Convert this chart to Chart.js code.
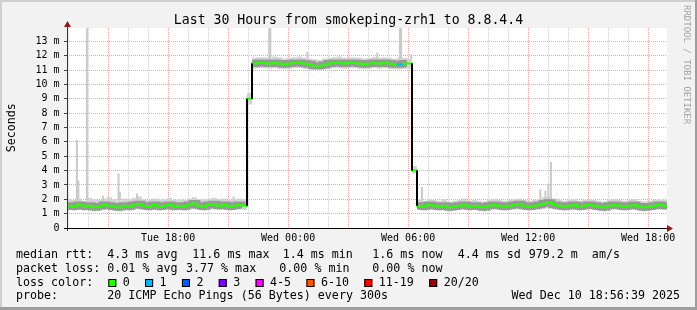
<!DOCTYPE html>
<html>
<head>
<meta charset="utf-8">
<script src="https://cdn.jsdelivr.net/npm/chart.js@4.4.1/dist/chart.umd.min.js"></script>
<style>
  html, body { margin: 0; padding: 0; background: #f2f2f2; }
  #wrap { width: 697px; height: 310px; }
</style>
</head>
<body>
<div id="wrap"><canvas id="smokeChart" width="697" height="310"></canvas></div>
<script>
// hours counted from Tue 00:00, one bucket every 15 minutes
const startHour = 12.944;
const stepHours = 0.25;

const medianRtt = [
    1.55, 1.5, 1.6, 1.5, 1.55, 1.45, 1.5, 1.6, 1.55, 1.5, 1.45, 1.55,
    1.5, 1.6, 1.65, 1.55, 1.5, 1.6, 1.5, 1.55, 1.6, 1.5, 1.55, 1.5,
    1.6, 1.7, 1.55, 1.5, 1.6, 1.65, 1.55, 1.6, 1.5, 1.55, 1.6, 1.55,
    9.0, 11.45, 11.5, 11.5, 11.45, 11.5, 11.45, 11.4, 11.45, 11.5, 11.5, 11.45,
    11.4, 11.3, 11.3, 11.35, 11.45, 11.5, 11.5, 11.45, 11.5, 11.5, 11.45, 11.4,
    11.45, 11.5, 11.45, 11.5, 11.45, 11.4, 11.4, 11.45, 11.45, 4.0, 1.55, 1.5,
    1.6, 1.55, 1.5, 1.55, 1.45, 1.5, 1.55, 1.6, 1.5, 1.55, 1.5, 1.45,
    1.55, 1.6, 1.55, 1.5, 1.55, 1.6, 1.65, 1.55, 1.5, 1.55, 1.6, 1.7,
    1.75, 1.6, 1.55, 1.5, 1.55, 1.6, 1.5, 1.55, 1.6, 1.55, 1.5, 1.45,
    1.55, 1.6, 1.55, 1.5, 1.55, 1.6, 1.5, 1.45, 1.5, 1.55, 1.6, 1.55,
    1.55
];

const smokeHigh = [
    2.0, 1.95, 2.05, 1.9, 2.1, 2.0, 1.95, 2.05, 2.15, 2.0, 1.9, 2.05,
    2.0, 2.1, 2.2, 2.0, 1.95, 2.05, 1.95, 2.0, 2.1, 1.95, 2.0, 1.95,
    2.05, 2.15, 2.0, 2.0, 2.05, 2.1, 2.0, 2.05, 1.95, 2.0, 2.05, 2.0,
    9.4, 11.85, 11.9, 11.9, 11.85, 11.95, 11.9, 11.8, 11.85, 11.9, 11.95, 11.85,
    11.8, 11.75, 11.7, 11.8, 11.85, 11.9, 11.95, 11.85, 11.9, 11.9, 11.85, 11.8,
    11.85, 11.9, 11.85, 11.9, 11.85, 11.8, 11.85, 11.85, 11.8, 4.3, 1.95, 1.9,
    2.0, 1.95, 1.9, 2.0, 1.85, 1.9, 1.95, 2.05, 1.9, 1.95, 1.9, 1.85,
    1.95, 2.0, 1.95, 1.9, 1.95, 2.0, 2.05, 1.95, 1.9, 1.95, 2.0, 2.15,
    2.2, 2.05, 1.95, 1.9, 1.95, 2.0, 1.9, 1.95, 2.0, 1.95, 1.9, 1.85,
    1.95, 2.0, 1.95, 1.9, 1.95, 2.0, 1.9, 1.85, 1.9, 1.95, 2.0, 1.95,
    1.95
];

const smokeLow = [
    1.25, 1.2, 1.3, 1.2, 1.25, 1.15, 1.2, 1.3, 1.25, 1.2, 1.15, 1.25,
    1.2, 1.3, 1.3, 1.25, 1.2, 1.3, 1.2, 1.25, 1.3, 1.2, 1.25, 1.2,
    1.3, 1.35, 1.25, 1.2, 1.3, 1.3, 1.25, 1.3, 1.2, 1.25, 1.3, 1.25,
    8.6, 11.1, 11.15, 11.15, 11.1, 11.15, 11.1, 11.05, 11.1, 11.15, 11.15, 11.1,
    11.05, 11.0, 11.0, 11.05, 11.1, 11.15, 11.15, 11.1, 11.15, 11.15, 11.1, 11.05,
    11.1, 11.15, 11.1, 11.15, 11.1, 11.05, 11.05, 11.1, 11.1, 3.8, 1.25, 1.2,
    1.3, 1.25, 1.2, 1.25, 1.15, 1.2, 1.25, 1.3, 1.2, 1.25, 1.2, 1.15,
    1.25, 1.3, 1.25, 1.2, 1.25, 1.3, 1.3, 1.25, 1.2, 1.25, 1.3, 1.35,
    1.4, 1.3, 1.25, 1.2, 1.25, 1.3, 1.2, 1.25, 1.3, 1.25, 1.2, 1.15,
    1.25, 1.3, 1.25, 1.2, 1.25, 1.3, 1.2, 1.15, 1.2, 1.25, 1.3, 1.25,
    1.25
];

// single slow pings sticking out of the smoke
const spikeHours = [13.44, 13.51, 13.94, 14.74, 15.52, 15.59, 16.44, 21.27,
                    23.06, 23.11, 24.96, 28.46, 29.59, 29.65, 30.16,
                    30.69, 36.61, 36.86, 37.01, 37.14];
const spikeBase = [1.9, 1.9, 1.9, 1.9, 1.9, 1.9, 1.9, 1.9,
                   11.8, 11.8, 11.8, 11.8, 11.8, 11.8, 11.8,
                   1.9, 1.9, 1.9, 1.9, 1.9];
const spikeTop = [6.15, 3.3, 14, 2.25, 3.8, 2.5, 2.4, 2.2,
                  14, 14, 12.25, 12.2, 14, 14, 12.1,
                  2.85, 2.7, 2.6, 3.1, 4.6];

// buckets where pings were lost
const lossSteps = [66];
const lossPings = [1];

const lossBins = ["0", "1", "2", "3", "4-5", "6-10", "11-19", "20/20"];
const lossColors = ["#26ff00", "#00b8ff", "#0059ff", "#7e00ff", "#ff00ff", "#ff5500", "#ff0000", "#a10000"];

const xTickHours = [13, 14, 15, 16, 17, 18, 19, 20, 21, 22, 23, 24, 25, 26, 27,
                    28, 29, 30, 31, 32, 33, 34, 35, 36, 37, 38, 39, 40, 41, 42];
const xLabelHours = [18, 24, 30, 36, 42];
const xLabelTexts = ["Tue 18:00", "Wed 00:00", "Wed 06:00", "Wed 12:00", "Wed 18:00"];
const yTickValues = [0, 0.5, 1, 1.5, 2, 2.5, 3, 3.5, 4, 4.5, 5, 5.5, 6, 6.5,
                     7, 7.5, 8, 8.5, 9, 9.5, 10, 10.5, 11, 11.5, 12, 12.5, 13, 13.5];

const titleText = "Last 30 Hours from smokeping-zrh1 to 8.8.4.4";
const rttItems = ["median rtt:", "4.3 ms avg", "11.6 ms max", "1.4 ms min", "1.6 ms now", "4.4 ms sd", "979.2 m  am/s"];
const lossItems = ["packet loss:", "0.01 % avg", "3.77 % max", "0.00 % min", "0.00 % now"];
const probeItems = ["probe:", "20 ICMP Echo Pings (56 Bytes) every 300s"];
const stampText = "Wed Dec 10 18:56:39 2025";

const MONO = '"DejaVu Sans Mono", monospace';
const MAJOR_GRID = "#e6a4a4";
const MINOR_GRID = "#cfcfcf";

const times = medianRtt.map((_, i) => startHour + i * stepHours);
const toPoints = arr => arr.map((v, i) => ({ x: times[i], y: v }));

function lossColorAt(i) {
    const j = lossSteps.indexOf(i);
    if (j < 0) return lossColors[0];
    const p = lossPings[j];
    if (p <= 3) return lossColors[p];
    if (p <= 5) return lossColors[4];
    if (p <= 10) return lossColors[5];
    if (p <= 19) return lossColors[6];
    return lossColors[7];
}

function isJump(i) {
    return i > 0 && Math.abs(medianRtt[i] - medianRtt[i - 1]) > 1;
}

const jumpPoints = [];
medianRtt.forEach((v, i) => {
    if (isJump(i)) {
        jumpPoints.push({ x: times[i], y: medianRtt[i - 1] }, { x: times[i], y: v }, { x: times[i], y: null });
    }
});

const spikePoints = [];
spikeHours.forEach((h, i) => {
    spikePoints.push({ x: h, y: spikeBase[i] }, { x: h, y: spikeTop[i] }, { x: h, y: null });
});

const decor = {
    id: "decor",
    beforeDraw(chart) {
        const { ctx, chartArea: a } = chart;
        ctx.save();
        ctx.fillStyle = "#f2f2f2";
        ctx.fillRect(0, 0, 697, 310);
        ctx.fillStyle = "#cfcfcf";
        ctx.fillRect(0, 0, 697, 2);
        ctx.fillRect(0, 0, 2, 310);
        ctx.fillStyle = "#9e9e9e";
        ctx.fillRect(0, 307, 697, 3);
        ctx.fillRect(695, 0, 2, 310);
        ctx.fillStyle = "#ffffff";
        ctx.fillRect(a.left, a.top, a.right - a.left, a.bottom - a.top);
        ctx.restore();
    },
    afterDraw(chart) {
        const { ctx, chartArea: a } = chart;
        const x0 = Math.round(a.left) + 0.5;
        const y0 = Math.round(a.bottom) + 0.5;
        ctx.save();

        // axes
        ctx.lineWidth = 1;
        ctx.strokeStyle = "#2f3a38";
        ctx.beginPath();
        ctx.moveTo(x0, a.bottom + 3);
        ctx.lineTo(x0, a.top - 2);
        ctx.stroke();
        ctx.strokeStyle = "#000";
        ctx.beginPath();
        ctx.moveTo(a.left - 3, y0);
        ctx.lineTo(a.right + 1, y0);
        ctx.stroke();

        ctx.fillStyle = "#901818";
        ctx.beginPath();
        ctx.moveTo(x0, a.top - 7);
        ctx.lineTo(x0 - 3.5, a.top - 1);
        ctx.lineTo(x0 + 3.5, a.top - 1);
        ctx.closePath();
        ctx.fill();
        ctx.beginPath();
        ctx.moveTo(a.right + 6, y0);
        ctx.lineTo(a.right, y0 - 3.5);
        ctx.lineTo(a.right, y0 + 3.5);
        ctx.closePath();
        ctx.fill();

        // title and axis caption
        ctx.fillStyle = "#000";
        ctx.textBaseline = "alphabetic";
        ctx.font = "13.2px " + MONO;
        ctx.textAlign = "center";
        ctx.fillText(titleText, 348.5, 24);

        ctx.font = "11.66px " + MONO;
        ctx.save();
        ctx.translate(14.7, 127.7);
        ctx.rotate(-Math.PI / 2);
        ctx.fillText("Seconds", 0, 0);
        ctx.restore();

        ctx.save();
        ctx.fillStyle = "#a3a3a3";
        ctx.font = "9px " + MONO;
        ctx.textAlign = "left";
        ctx.translate(684, 5);
        ctx.rotate(Math.PI / 2);
        ctx.fillText("RRDTOOL / TOBI OETIKER", 0, 0);
        ctx.restore();

        // legend block
        ctx.font = "11.66px " + MONO;
        ctx.textAlign = "left";
        const rttX = [16, 107.3, 192.3, 282.7, 372.3, 457.7, 528.7];
        rttItems.forEach((t, i) => ctx.fillText(t, rttX[i], 258.3));
        const lossX = [16, 107.3, 186, 279.3, 372.3];
        lossItems.forEach((t, i) => ctx.fillText(t, lossX[i], 271.7));
        ctx.fillText("loss color:", 16, 285.5);
        let bx = 108.3;
        lossBins.forEach((label, i) => {
            ctx.fillStyle = lossColors[i];
            ctx.fillRect(bx, 279, 8, 8);
            ctx.strokeStyle = "#000";
            ctx.strokeRect(bx + 0.5, 279.5, 7, 7);
            ctx.fillStyle = "#000";
            ctx.fillText(label, bx + 14.5, 285.5);
            bx += 14.5 + ctx.measureText(label).width + 15.3;
        });
        ctx.fillText(probeItems[0], 16, 299);
        ctx.fillText(probeItems[1], 107.3, 299);
        ctx.textAlign = "right";
        ctx.fillText(stampText, 680, 299);
        ctx.restore();
    }
};

new Chart(document.getElementById("smokeChart"), {
    type: "line",
    data: {
        datasets: [
            {
                label: "jumps",
                data: jumpPoints,
                borderColor: "#000",
                borderWidth: 2,
                spanGaps: false,
                order: 0
            },
            {
                label: "median rtt",
                data: toPoints(medianRtt),
                stepped: true,
                borderColor: lossColors[0],
                borderWidth: 2,
                segment: { borderColor: c => lossColorAt(c.p0DataIndex) },
                order: 1
            },
            {
                label: "median smoke",
                data: toPoints(medianRtt),
                stepped: true,
                borderColor: "rgba(80,80,80,0.45)",
                borderWidth: 7,
                segment: { borderColor: c => (isJump(c.p1DataIndex) ? "rgba(0,0,0,0)" : undefined) },
                order: 2
            },
            {
                label: "spikes",
                data: spikePoints,
                borderColor: "#cacaca",
                borderWidth: 2,
                spanGaps: false,
                order: 3
            },
            {
                label: "smoke high",
                data: toPoints(smokeHigh),
                stepped: true,
                borderColor: "rgba(0,0,0,0)",
                borderWidth: 0,
                backgroundColor: "#d3d3d3",
                fill: "+1",
                order: 4
            },
            {
                label: "smoke low",
                data: toPoints(smokeLow),
                stepped: true,
                borderColor: "rgba(0,0,0,0)",
                borderWidth: 0,
                fill: false,
                order: 5
            }
        ]
    },
    options: {
        responsive: false,
        animation: false,
        devicePixelRatio: 1,
        events: [],
        elements: { point: { radius: 0 }, line: { tension: 0 } },
        layout: { padding: { left: 0, top: 28, right: 30, bottom: 62 } },
        plugins: { legend: { display: false }, tooltip: { enabled: false } },
        scales: {
            x: {
                type: "linear",
                min: startHour,
                max: startHour + 30,
                afterBuildTicks: s => { s.ticks = xTickHours.map(v => ({ value: v })); },
                afterFit: s => { s.height = 20; },
                ticks: {
                    autoSkip: false,
                    maxRotation: 0,
                    padding: 1,
                    color: "#000",
                    font: { family: MONO, size: 10 },
                    callback: v => {
                        const j = xLabelHours.indexOf(v);
                        return j < 0 ? "" : xLabelTexts[j];
                    }
                },
                grid: {
                    color: c => (c.tick && c.tick.value % 3 === 0 ? MAJOR_GRID : MINOR_GRID),
                    tickLength: 3,
                    tickColor: "rgba(0,0,0,0)"
                },
                border: { display: false, dash: [1, 1] }
            },
            y: {
                min: 0,
                max: 13.93,
                afterBuildTicks: s => { s.ticks = yTickValues.map(v => ({ value: v })); },
                afterFit: s => { s.width = 67; },
                ticks: {
                    padding: 4.5,
                    color: "#000",
                    font: { family: MONO, size: 10 },
                    callback: v => (Number.isInteger(v) ? (v === 0 ? "0" : v + " m") : "")
                },
                grid: {
                    color: c => (c.tick && Number.isInteger(c.tick.value) ? MAJOR_GRID : MINOR_GRID),
                    tickLength: 3,
                    tickColor: c => (c.tick && Number.isInteger(c.tick.value) ? "#444" : "#bbb")
                },
                border: { display: false, dash: [1, 1] }
            }
        }
    },
    plugins: [decor]
});
</script>
</body>
</html>
